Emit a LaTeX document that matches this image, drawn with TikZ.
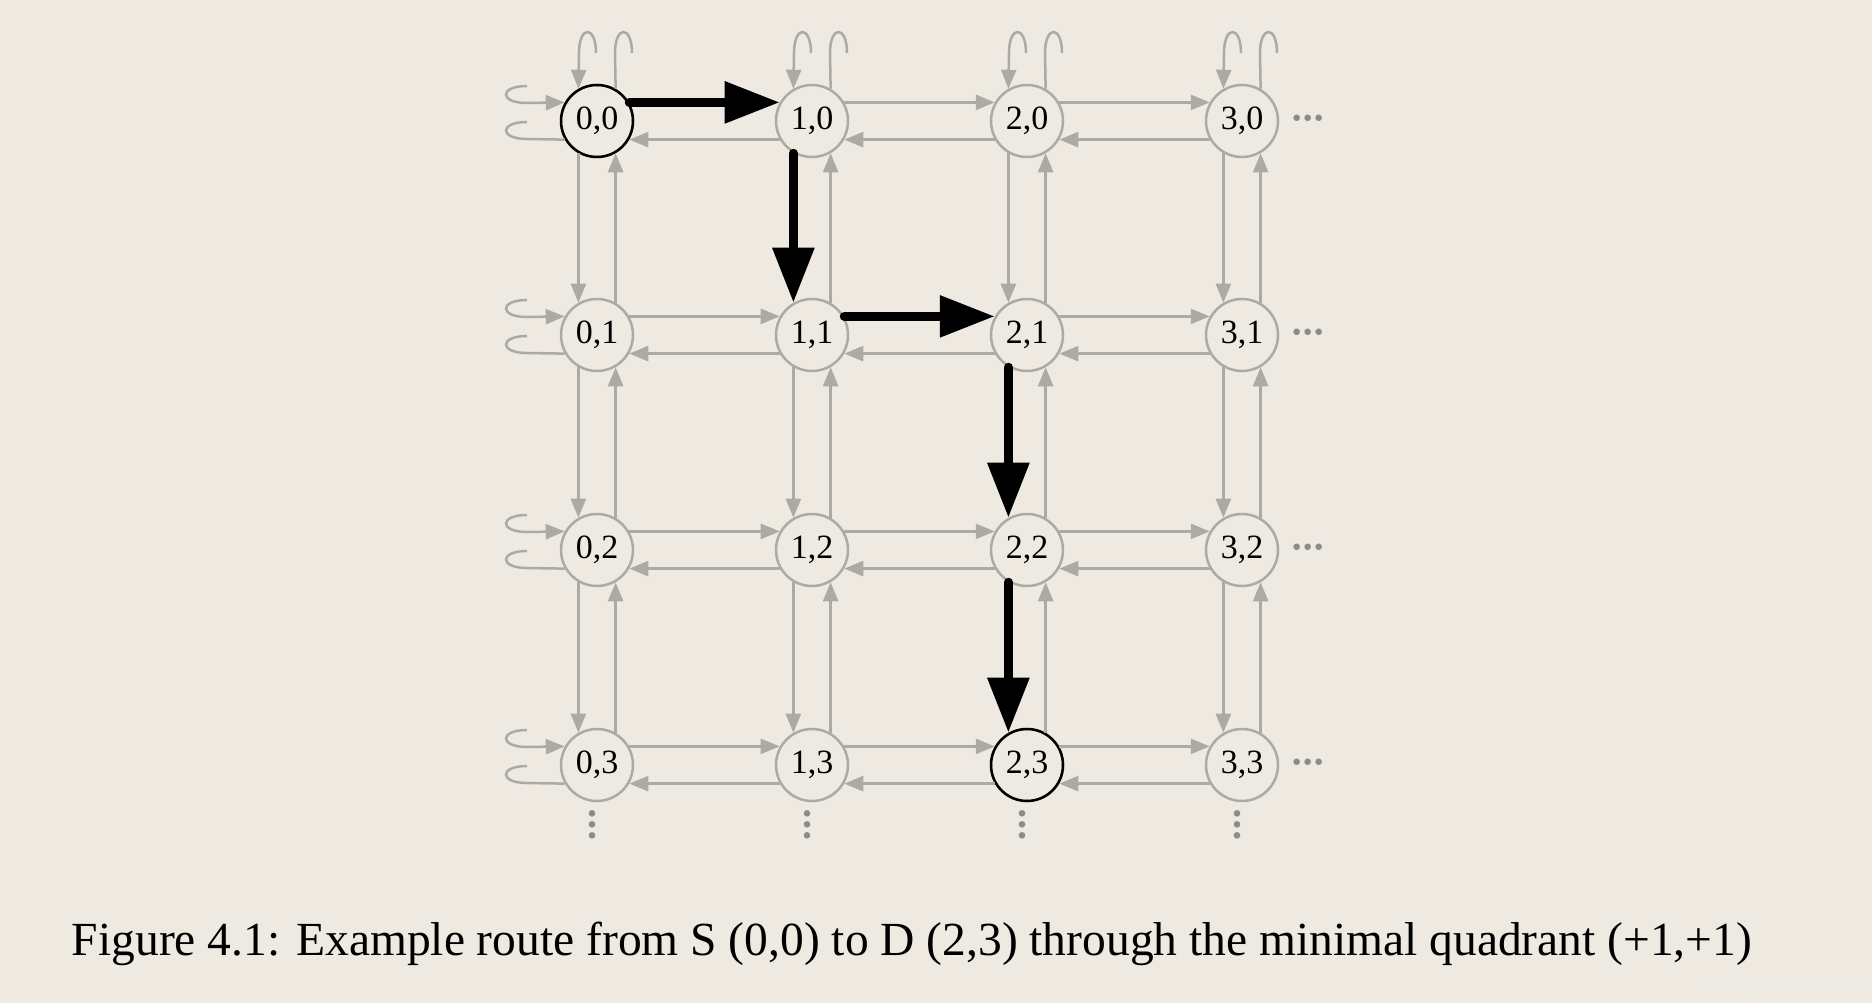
\documentclass[tikz,border=0pt]{standalone}
\usepackage{fontspec}
\setmainfont{Liberation Serif}
\newfontfamily\cjk{Noto Sans CJK SC}
\usetikzlibrary{arrows.meta,calc}
\definecolor{bg}{HTML}{EEEAE2}
\definecolor{eg}{HTML}{ADAAA3}
\definecolor{dg}{HTML}{8E8B86}
\begin{document}
\begin{tikzpicture}[x=1pt,y=1pt,
  nd/.style={circle,draw=eg,line width=2.5pt,minimum size=72pt,inner sep=0pt,font=\fontsize{34}{34}\selectfont},
  ga/.style={draw=eg,line width=2.5pt,-{Triangle[length=19pt,width=15pt]}},
  gl/.style={draw=eg,line width=2.5pt},
  ba/.style={draw=black,line width=9pt,line cap=round,-{Triangle[length=55pt,width=40pt]}},
  dots/.style={text=dg,inner sep=0pt,font=\fontsize{40}{40}\selectfont\bfseries}]
\fill[bg] (0,0) rectangle (1872,-1003);
\useasboundingbox (0,0) rectangle (1872,-1003);
\foreach \i/\x in {0/597,1/812,2/1027,3/1242}
  \foreach \j/\y in {0/-121,1/-335,2/-550,3/-765}
    \node[nd] (n\i\j) at (\x,\y) {\i,\j};
\node[nd,draw=black] at (n00) {};
\node[nd,draw=black] at (n23) {};
% horizontal edges
\foreach \j in {0,1,2,3}{
  \foreach \a/\b in {0/1,1/2,2/3}{
    \draw[ga] (n\b\j.210) -- (n\a\j.330);
  }
  \draw[ga] (n2\j.30) -- (n3\j.150);
}
\draw[ga] (n10.30) -- (n20.150);
\draw[ga] (n01.30) -- (n11.150);
\draw[ga] (n02.30) -- (n12.150);
\draw[ga] (n03.30) -- (n13.150);
\draw[ga] (n12.30) -- (n22.150);
\draw[ga] (n13.30) -- (n23.150);
% vertical edges
\foreach \i in {0,1,2,3}{
  \foreach \a/\b in {0/1,1/2,2/3}{
    \draw[ga] (n\i\b.60) -- (n\i\a.300);
  }
}
\foreach \i/\a/\b in {0/0/1,0/1/2,0/2/3,1/1/2,1/2/3,2/0/1,3/0/1,3/1/2,3/2/3}
  \draw[ga] (n\i\a.240) -- (n\i\b.120);
% black route
\draw[ba] (n00.30) -- (n10.150);
\draw[ba] (n10.240) -- (n11.120);
\draw[ba] (n11.30) -- (n21.150);
\draw[ba] (n21.240) -- (n22.120);
\draw[ba] (n22.240) -- (n23.120);
% left loops
\foreach \j in {0,1,2,3}{
  \draw[ga] ($(n0\j.center)+(-70,35)$) .. controls +(-28,0) and +(-28,0) .. ($(n0\j.center)+(-70,18)$) -- (n0\j.150);
  \draw[gl] (n0\j.210) -- ($(n0\j.center)+(-70,-18)$) .. controls +(-28,0) and +(-28,0) .. ($(n0\j.center)+(-70,-1)$);
}
% top loops
\foreach \i in {0,1,2,3}{
  \draw[ga] ($(n\i0.center)+(-1,68)$) .. controls +(0,28) and +(0,28) .. ($(n\i0.center)+(-18,68)$) -- (n\i0.120);
  \draw[gl] (n\i0.60) -- ($(n\i0.center)+(18,68)$) .. controls +(0,28) and +(0,28) .. ($(n\i0.center)+(35,68)$);
}
% dots
\foreach \j in {0,1,2,3}
  \node[dots] (h\j) at ($(n3\j.center)+(66,-2)$) {\textperiodcentered\kern-2pt\textperiodcentered\kern-2pt\textperiodcentered};
\foreach \i in {0,1,2,3}
  \node[dots,align=center,font=\fontsize{40}{11}\selectfont\bfseries] (v\i) at ($(n\i3.center)+(-5,-60)$) {.\\.\\.};
\node[font=\fontsize{47.5}{47.5}\selectfont] (cap) at (912,-944) {Figure 4.1: Example route from S (0,0) to D (2,3) through the minimal quadrant (+1,+1)};
\node[anchor=south east,text=white!85!gray,font=\fontsize{17}{17}\selectfont\cjk] (wm) at (1864,-998) {CSDN @正在輸入......};
\end{tikzpicture}
\end{document}
